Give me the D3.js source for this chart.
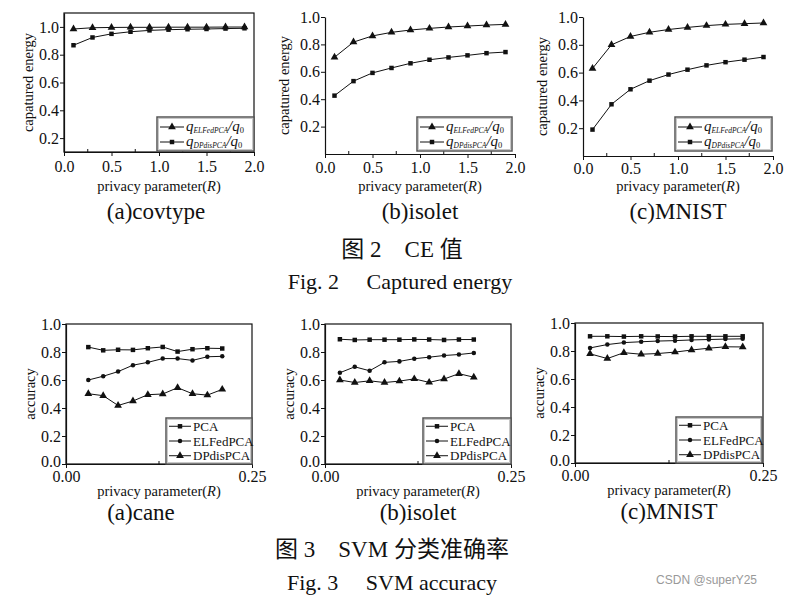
<!DOCTYPE html>
<html>
<head>
<meta charset="utf-8">
<script src="https://cdn.jsdelivr.net/npm/d3@7"></script>
<style>
  html, body { margin: 0; padding: 0; background: #fff; }
  svg { display: block; }
  text { font-family: "Liberation Serif", "Times New Roman", serif; fill: #111; }
  .cjk { font-family: "Liberation Serif", "Noto Sans CJK SC", serif; }
</style>
</head>
<body>
<script>
// ---------------- DATA ----------------
const capX = [0.1, 0.3, 0.5, 0.7, 0.9, 1.1, 1.3, 1.5, 1.7, 1.9];
const covtypeELF = [0.985, 0.994, 0.996, 0.997, 0.997, 0.998, 0.998, 0.998, 0.999, 0.999];
const covtypeDP  = [0.868, 0.924, 0.950, 0.965, 0.975, 0.980, 0.983, 0.985, 0.988, 0.990];
const isoletELF  = [0.706, 0.817, 0.862, 0.888, 0.905, 0.917, 0.927, 0.934, 0.941, 0.946];
const isoletDP   = [0.426, 0.532, 0.592, 0.628, 0.662, 0.688, 0.705, 0.720, 0.736, 0.744];
const mnistELF   = [0.630, 0.800, 0.860, 0.890, 0.910, 0.925, 0.938, 0.947, 0.952, 0.957];
const mnistDP    = [0.190, 0.372, 0.480, 0.542, 0.586, 0.621, 0.652, 0.675, 0.693, 0.712];

const caneX   = [0.03, 0.05, 0.07, 0.09, 0.11, 0.13, 0.15, 0.17, 0.19, 0.21];
const canePCA = [0.835, 0.812, 0.816, 0.815, 0.827, 0.836, 0.803, 0.820, 0.827, 0.825];
const caneELF = [0.600, 0.627, 0.660, 0.706, 0.726, 0.753, 0.753, 0.740, 0.766, 0.769];
const caneDP  = [0.502, 0.488, 0.418, 0.450, 0.495, 0.500, 0.545, 0.502, 0.492, 0.533];

const isoAccX   = [0.02, 0.04, 0.06, 0.08, 0.10, 0.12, 0.14, 0.16, 0.18, 0.20];
const isoAccPCA = [0.891, 0.886, 0.888, 0.888, 0.888, 0.890, 0.889, 0.886, 0.889, 0.889];
const isoAccELF = [0.652, 0.694, 0.666, 0.726, 0.733, 0.752, 0.763, 0.775, 0.782, 0.793];
const isoAccDP  = [0.600, 0.582, 0.594, 0.582, 0.592, 0.608, 0.583, 0.607, 0.645, 0.620];

const mnAccX   = [0.02, 0.043, 0.065, 0.088, 0.11, 0.133, 0.155, 0.178, 0.20, 0.223];
const mnAccPCA = [0.905, 0.905, 0.903, 0.905, 0.904, 0.903, 0.905, 0.905, 0.905, 0.905];
const mnAccELF = [0.822, 0.846, 0.860, 0.866, 0.871, 0.874, 0.879, 0.882, 0.885, 0.887];
const mnAccDP  = [0.780, 0.746, 0.788, 0.777, 0.782, 0.792, 0.807, 0.820, 0.830, 0.829];

const capXTicks = [0, 0.5, 1.0, 1.5, 2.0];
const capYTicks = [0.2, 0.4, 0.6, 0.8, 1.0];
const accXTicks = [0, 0.25];
const accYTicks = [0.0, 0.2, 0.4, 0.6, 0.8, 1.0];

const capLegend = ["ELFedPCA", "DPdisPCA"];
const accLegend = ["PCA", "ELFedPCA", "DPdisPCA"];

// ---------------- DRAW ----------------
const W = 810, H = 604;
const svg = d3.select("body").append("svg").attr("width", W).attr("height", H);

const symTri = d3.symbol().type(d3.symbolTriangle).size(26);
const symSq  = d3.symbol().type(d3.symbolSquare).size(20);
const symCi  = d3.symbol().type(d3.symbolCircle).size(16);

function panel(p) {
  const g = svg.append("g");
  const x = d3.scaleLinear().domain(p.xDomain).range([p.left, p.right]);
  const y = d3.scaleLinear().domain(p.yDomain).range([p.bottom, p.top]);

  if (p.frame) {
    g.append("rect").attr("x", p.left).attr("y", p.top)
      .attr("width", p.right - p.left).attr("height", p.bottom - p.top)
      .attr("fill", "none").attr("stroke", "#111").attr("stroke-width", 1.2);
  }
  if (p.xMinor) {
    g.selectAll(null).data(p.xMinor).join("line")
      .attr("x1", d => x(d)).attr("x2", d => x(d))
      .attr("y1", p.bottom).attr("y2", p.bottom - 3)
      .attr("stroke", "#111");
  }

  const xa = g.append("g").attr("transform", `translate(0,${p.bottom})`)
    .call(d3.axisBottom(x).tickValues(p.xTicks).tickFormat(d3.format(p.xFmt))
      .tickSizeInner(4).tickSizeOuter(0).tickPadding(p.xPad));
  const ya = g.append("g").attr("transform", `translate(${p.left},0)`)
    .call(d3.axisLeft(y).tickValues(p.yTicks).tickFormat(d3.format(".1f"))
      .tickSizeInner(4).tickSizeOuter(0).tickPadding(1));
  [xa, ya].forEach(a => {
    a.select(".domain").attr("stroke", "#111").attr("stroke-width", 1.2);
    a.selectAll(".tick line").attr("stroke", "#111");
    a.selectAll("text").attr("font-family", "Liberation Serif").attr("font-size", 16).attr("fill", "#111");
  });
  // lift the "0.0" label a little so it clears the x-axis labels
  ya.selectAll(".tick").filter(d => d === 0).select("text").attr("y", -3);

  p.series.forEach(s => {
    const pts = s.xs.map((d, i) => [d, s.ys[i]]);
    g.append("path").datum(pts)
      .attr("d", d3.line().x(d => x(d[0])).y(d => y(d[1])))
      .attr("fill", "none").attr("stroke", "#111").attr("stroke-width", 1);
    g.selectAll(null).data(pts).join("path")
      .attr("d", s.sym)
      .attr("transform", d => `translate(${x(d[0])},${y(d[1])})`)
      .attr("fill", "#111");
  });

  const xt = g.append("text").attr("x", (p.left + p.right) / 2).attr("y", p.xTitleY)
    .attr("text-anchor", "middle").attr("font-size", 14.5);
  xt.append("tspan").text("privacy parameter(");
  xt.append("tspan").attr("font-style", "italic").text("R");
  xt.append("tspan").text(")");

  g.append("text").attr("transform", `translate(${p.yTitleX},${(p.top + p.bottom) / 2}) rotate(-90)`)
    .attr("text-anchor", "middle").attr("font-size", 14.5).text(p.yTitle);

  g.append("text").attr("x", (p.left + p.right) / 2 + (p.capDx || 0)).attr("y", p.capY)
    .attr("text-anchor", "middle").attr("font-size", 23).text(p.caption);

  const L = p.legend;
  const lg = g.append("g");
  lg.append("rect").attr("x", L.x0).attr("y", L.y0)
    .attr("width", L.x1 - L.x0).attr("height", L.y1 - L.y0)
    .attr("fill", "#fff").attr("stroke", "#555").attr("stroke-width", 1.5);
  lg.append("rect").attr("x", L.x0 + 1.5).attr("y", L.y0 + 1.5)
    .attr("width", L.x1 - L.x0 - 3).attr("height", L.y1 - L.y0 - 3)
    .attr("fill", "none").attr("stroke", "#bbb").attr("stroke-width", 0.8);
  L.items.forEach((it, i) => {
    const yy = L.rowY[i];
    lg.append("line").attr("x1", L.x0 + 3).attr("x2", L.x0 + 3 + L.lineW)
      .attr("y1", yy).attr("y2", yy).attr("stroke", "#111");
    lg.append("path").attr("d", it.sym)
      .attr("transform", `translate(${L.x0 + 3 + L.lineW / 2},${yy})`).attr("fill", "#111");
    const t = lg.append("text").attr("x", L.x0 + 5 + L.lineW).attr("y", yy + 4);
    if (it.math) {
      t.append("tspan").attr("font-style", "italic").attr("font-size", 15).text("q");
      t.append("tspan").attr("font-style", "italic").attr("font-size", 7.5).attr("dy", 1.5).text(it.label);
      t.append("tspan").attr("font-style", "italic").attr("font-size", 15).attr("dy", -1.5).text("/q");
      t.append("tspan").attr("font-size", 8.5).attr("dy", 1.5).text("0");
    } else {
      t.attr("font-size", 13).attr("y", yy + 4.5).text(it.label);
    }
  });
}

function capLegendCfg(x0, x1) {
  return { x0, x1, y0: 117, y1: 151, lineW: 24, rowY: [127, 142],
    items: [{ label: capLegend[0], sym: symTri, math: true }, { label: capLegend[1], sym: symSq, math: true }] };
}
function accLegendCfg(x0, x1, top, bottom) {
  const h = bottom - top;
  return { x0, x1, y0: top, y1: bottom, lineW: 22,
    rowY: [top + h * 0.18, top + h * 0.5, top + h * 0.82],
    items: [{ label: accLegend[0], sym: symSq }, { label: accLegend[1], sym: symCi }, { label: accLegend[2], sym: symTri }] };
}

const capMinorX = [0.25, 0.75, 1.25, 1.75];

panel({ left: 64, right: 254, top: 13, bottom: 152, xDomain: [0, 2], yDomain: [0.1, 1.1],
  xTicks: capXTicks, xFmt: ".1f", xPad: 5, yTicks: capYTicks, frame: true, xMinor: capMinorX,
  series: [{ xs: capX, ys: covtypeELF, sym: symTri }, { xs: capX, ys: covtypeDP, sym: symSq }],
  xTitleY: 191, yTitleX: 33, yTitle: "capatured energy", caption: "(a)covtype", capY: 219, capDx: -3,
  legend: capLegendCfg(157, 254) });

panel({ left: 325, right: 515, top: 17, bottom: 154, xDomain: [0, 2], yDomain: [0, 1],
  xTicks: capXTicks, xFmt: ".1f", xPad: 4, yTicks: capYTicks, frame: false, xMinor: capMinorX,
  series: [{ xs: capX, ys: isoletELF, sym: symTri }, { xs: capX, ys: isoletDP, sym: symSq }],
  xTitleY: 191, yTitleX: 289, yTitle: "capatured energy", caption: "(b)isolet", capY: 219,
  legend: capLegendCfg(417, 512) });

panel({ left: 583, right: 773, top: 17, bottom: 156, xDomain: [0, 2], yDomain: [0, 1],
  xTicks: capXTicks, xFmt: ".1f", xPad: 3, yTicks: capYTicks, frame: false, xMinor: capMinorX,
  series: [{ xs: capX, ys: mnistELF, sym: symTri }, { xs: capX, ys: mnistDP, sym: symSq }],
  xTitleY: 191, yTitleX: 547, yTitle: "capatured energy", caption: "(c)MNIST", capY: 219,
  legend: capLegendCfg(675, 772) });

panel({ left: 66, right: 252, top: 324, bottom: 464, xDomain: [0, 0.25], yDomain: [0, 1],
  xTicks: accXTicks, xFmt: ".2f", xPad: 3, yTicks: accYTicks, frame: true, xMinor: [0.125],
  series: [{ xs: caneX, ys: canePCA, sym: symSq }, { xs: caneX, ys: caneELF, sym: symCi }, { xs: caneX, ys: caneDP, sym: symTri }],
  xTitleY: 496, yTitleX: 35, yTitle: "accuracy", caption: "(a)cane", capY: 520, capDx: -18,
  legend: accLegendCfg(166, 252, 418, 464) });

panel({ left: 325, right: 511, top: 324, bottom: 464, xDomain: [0, 0.25], yDomain: [0, 1],
  xTicks: accXTicks, xFmt: ".2f", xPad: 3, yTicks: accYTicks, frame: true, xMinor: [0.125],
  series: [{ xs: isoAccX, ys: isoAccPCA, sym: symSq }, { xs: isoAccX, ys: isoAccELF, sym: symCi }, { xs: isoAccX, ys: isoAccDP, sym: symTri }],
  xTitleY: 496, yTitleX: 294, yTitle: "accuracy", caption: "(b)isolet", capY: 520,
  legend: accLegendCfg(423, 511, 418, 464) });

panel({ left: 575, right: 763, top: 323, bottom: 463, xDomain: [0, 0.25], yDomain: [0, 1],
  xTicks: accXTicks, xFmt: ".2f", xPad: 3, yTicks: accYTicks, frame: true, xMinor: [0.125],
  series: [{ xs: mnAccX, ys: mnAccPCA, sym: symSq }, { xs: mnAccX, ys: mnAccELF, sym: symCi }, { xs: mnAccX, ys: mnAccDP, sym: symTri }],
  xTitleY: 495, yTitleX: 544, yTitle: "accuracy", caption: "(c)MNIST", capY: 519,
  legend: accLegendCfg(676, 762, 417, 463) });

svg.append("text").attr("class", "cjk").attr("x", 402).attr("y", 257).attr("text-anchor", "middle")
  .attr("font-size", 23).attr("xml:space", "preserve").text("图 2\u2003CE 值");
svg.append("text").attr("x", 400).attr("y", 289).attr("text-anchor", "middle")
  .attr("font-size", 22).attr("xml:space", "preserve").text("Fig. 2\u2003 Captured energy");
svg.append("text").attr("class", "cjk").attr("x", 392).attr("y", 557).attr("text-anchor", "middle")
  .attr("font-size", 23).attr("xml:space", "preserve").text("图 3\u2003SVM 分类准确率");
svg.append("text").attr("x", 392).attr("y", 590).attr("text-anchor", "middle")
  .attr("font-size", 22).attr("xml:space", "preserve").text("Fig. 3\u2003 SVM accuracy");
svg.append("text").attr("x", 757).attr("y", 584).attr("text-anchor", "end")
  .style("font-family", "'Liberation Sans', Arial, sans-serif").attr("font-size", 12).style("fill", "#999")
  .text("CSDN @superY25");
</script>
</body>
</html>
